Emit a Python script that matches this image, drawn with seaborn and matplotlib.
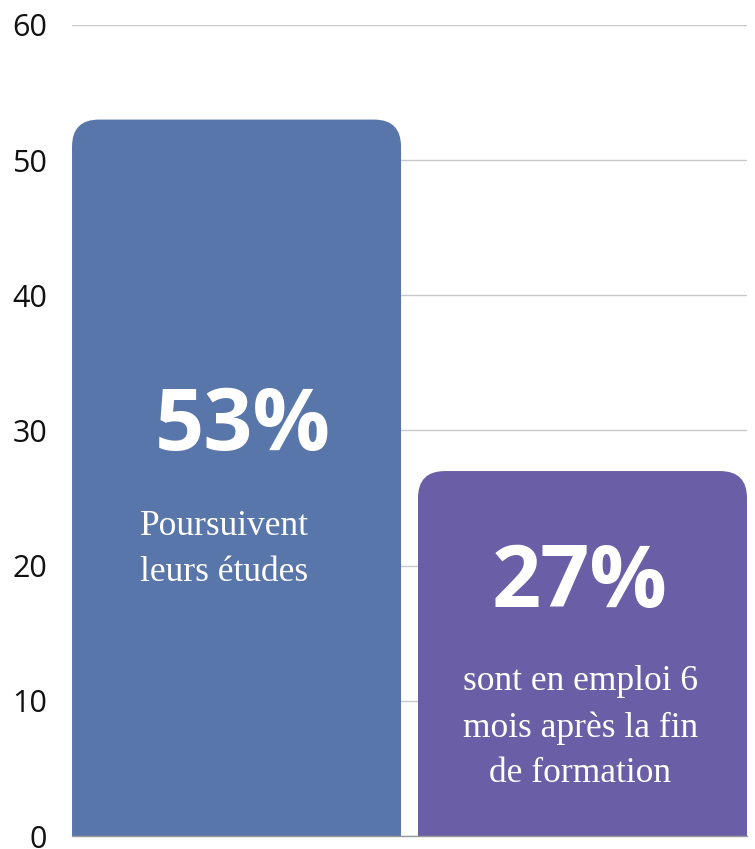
import matplotlib
matplotlib.use('Agg')
import matplotlib.pyplot as plt
from matplotlib.patches import FancyBboxPatch
import seaborn as sns
import pandas as pd

# data
categories = ['Poursuivent leurs études', 'En emploi à 6 mois']
values = [53, 27]
big_labels = ['53%', '27%']
sub_labels = ['Poursuivent\nleurs études',
              'sont en emploi 6\nmois après la fin\nde formation']
bar_colors = ['#5976AA', '#6A5FA7']
y_ticks = [0, 10, 20, 30, 40, 50, 60]

df = pd.DataFrame({'cat': categories, 'val': values})

sns.set_style('white')
plt.rcParams['font.family'] = ['Open Sans', 'DejaVu Sans']

fig = plt.figure(figsize=(7.55, 8.49), dpi=100)
ax = fig.add_axes([0.0954, 0.0153, 0.894, 0.9553])

sns.barplot(data=df, x='cat', y='val', hue='cat', palette=bar_colors,
            width=0.951, legend=False, ax=ax, zorder=2)

# swap plain bars for bars with rounded top corners
for p, col in zip(list(ax.patches), bar_colors):
    x0, w, h = p.get_x(), p.get_width(), p.get_height()
    p.set_visible(False)
    rb = FancyBboxPatch((x0, -10), w, h + 10,
                        boxstyle='round,pad=0,rounding_size=0.078',
                        mutation_aspect=25.6, facecolor=col,
                        edgecolor='none', zorder=2)
    ax.add_patch(rb)

ax.set_xlim(-0.4755, 1.4755)
ax.set_ylim(0, 60)
ax.set_yticks(y_ticks)
ax.set_yticklabels([str(t) for t in y_ticks])
ax.set_xticks([])
ax.set_xlabel('')
ax.set_ylabel('')
ax.tick_params(axis='y', length=0, pad=18, labelsize=22, labelcolor='#111111')
ax.yaxis.grid(True, color='#c8c8c8', linewidth=1, zorder=0)
ax.set_axisbelow(True)
for s in ['top', 'right', 'left']:
    ax.spines[s].set_visible(False)
ax.spines['bottom'].set_color('#999999')
ax.spines['bottom'].set_linewidth(1)

# in-bar labels
big_pos = [(0.019, 30.2), (0.993, 18.6)]
sub_pos = [(-0.036, 21.2), (0.993, 8.0)]
for i in range(len(values)):
    ax.text(big_pos[i][0], big_pos[i][1], big_labels[i], ha='center',
            va='center', color='white', fontsize=62, fontweight='bold',
            family='Open Sans', zorder=3)
    ax.text(sub_pos[i][0], sub_pos[i][1], sub_labels[i], ha='center',
            va='center', color='white', fontsize=25.5, linespacing=1.5,
            family='Liberation Serif', zorder=3)

plt.savefig('out.png', dpi=100)
